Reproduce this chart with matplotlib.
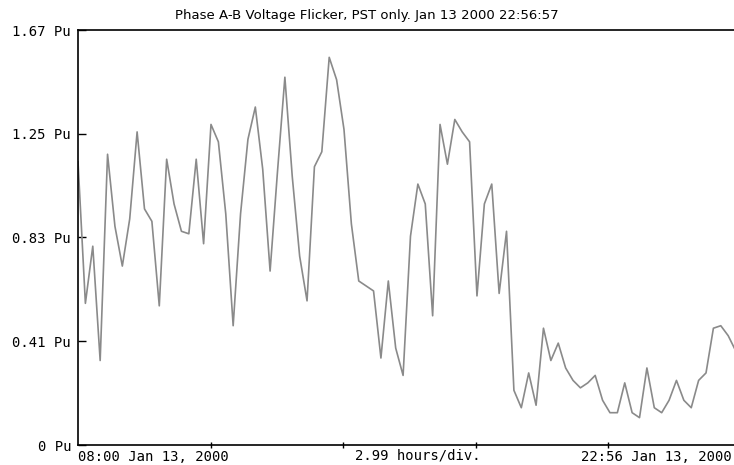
import numpy as np
import pandas as pd
import matplotlib
matplotlib.use("Agg")
import matplotlib.pyplot as plt

# ---- data (PST, 10 minute samples) ----
TITLE = "Phase A-B Voltage Flicker, PST only. Jan 13 2000 22:56:57"
START = pd.Timestamp("2000-01-13 08:00")
END = pd.Timestamp("2000-01-13 22:56")
HOURS_PER_DIV = 2.99
Y_MAX = 1.67

PST = [1.14, 0.57, 0.80, 0.34, 1.17, 0.88, 0.72, 0.91, 1.26, 0.95,
       0.90, 0.56, 1.15, 0.97, 0.86, 0.85, 1.15, 0.81, 1.29, 1.22,
       0.93, 0.48, 0.93, 1.23, 1.36, 1.11, 0.70, 1.10, 1.48, 1.08,
       0.76, 0.58, 1.12, 1.18, 1.56, 1.47, 1.27, 0.89, 0.66, 0.64,
       0.62, 0.35, 0.66, 0.39, 0.28, 0.84, 1.05, 0.97, 0.52, 1.29,
       1.13, 1.31, 1.26, 1.22, 0.60, 0.97, 1.05, 0.61, 0.86, 0.22,
       0.15, 0.29, 0.16, 0.47, 0.34, 0.41, 0.31, 0.26, 0.23, 0.25,
       0.28, 0.18, 0.13, 0.13, 0.25, 0.13, 0.11, 0.31, 0.15, 0.13,
       0.18, 0.26, 0.18, 0.15, 0.26, 0.29, 0.47, 0.48, 0.44, 0.38]

Y_LABELS = ["0 Pu", "0.41 Pu", "0.83 Pu", "1.25 Pu", "1.67 Pu"]
X_LEFT_LABEL = "08:00 Jan 13, 2000"
X_MID_LABEL = "2.99 hours/div."
X_RIGHT_LABEL = "22:56 Jan 13, 2000"

times = pd.date_range(START, periods=len(PST), freq="10min")

W, H = 734, 465
fig = plt.figure(figsize=(W / 100, H / 100), dpi=100)
fig.patch.set_facecolor("white")

# axes box: left edge 78px, right edge 740px (cut off by the image), top 30px, bottom 445px
ax = fig.add_axes([78 / W, 20 / H, 662 / W, 415 / H])
ax.plot(times, PST, color="#8a8a8a", linewidth=1.2)

ax.set_xlim(START, END)
ax.set_ylim(0, Y_MAX)

lab_font = dict(family="DejaVu Sans Mono", size=10)

ax.set_yticks(np.linspace(0, Y_MAX, 5))
ax.set_yticklabels(Y_LABELS, fontdict=lab_font)
ax.tick_params(axis="y", direction="in", length=6, width=1, pad=5, colors="black")

xt = [START + pd.Timedelta(hours=HOURS_PER_DIV * i) for i in range(1, 5)]
ax.set_xticks(xt)
ax.set_xticklabels([])
ax.tick_params(axis="x", direction="inout", length=5, width=1)

for s in ax.spines.values():
    s.set_linewidth(1.2)
    s.set_color("black")

fig.text(78 / W, 1 - 457 / H, X_LEFT_LABEL, ha="left", va="center", **lab_font)
fig.text(418 / W, 1 - 455 / H, X_MID_LABEL, ha="center", va="center", **lab_font)
fig.text(732 / W, 1 - 457 / H, X_RIGHT_LABEL, ha="right", va="center", **lab_font)

fig.text(367 / W, 1 - 16 / H, TITLE, ha="center", va="center", fontsize=9.5)

fig.savefig("out.png", dpi=100, facecolor="white")
